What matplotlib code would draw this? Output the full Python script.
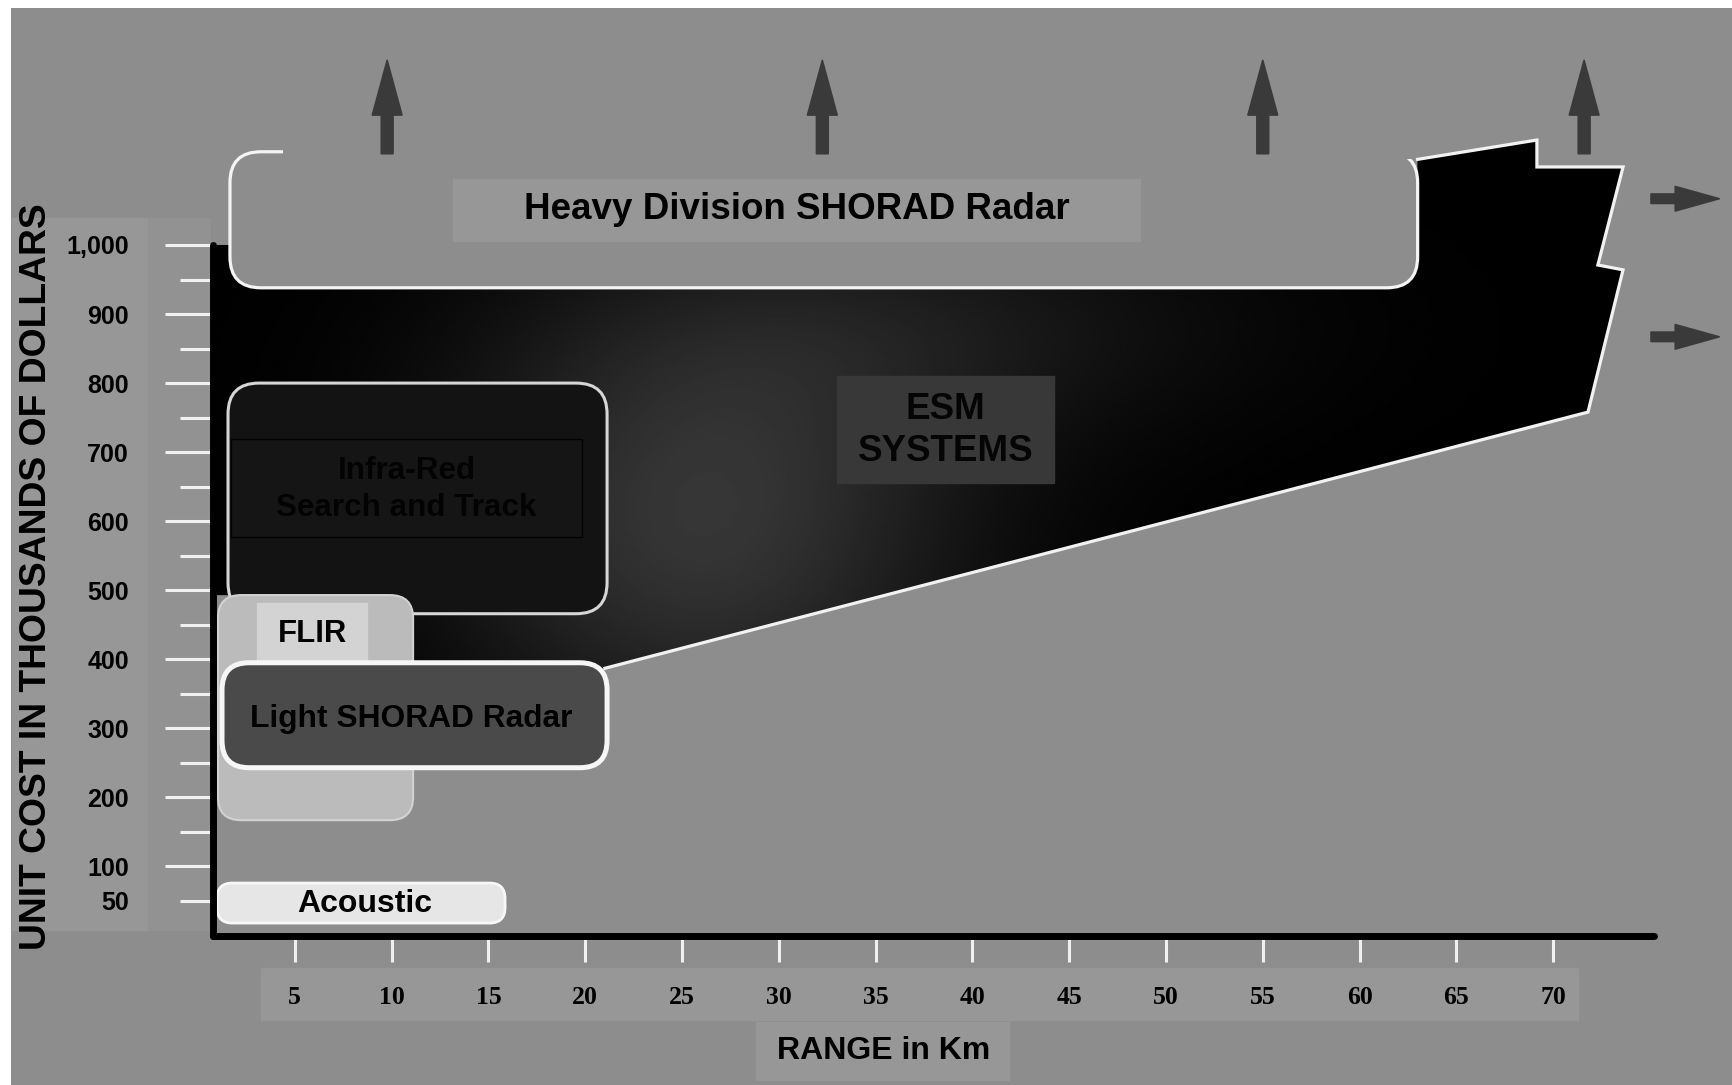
import matplotlib.pyplot as plt
import numpy as np
from matplotlib.patches import FancyBboxPatch, Rectangle, Polygon, FancyArrow

# %%
# values: range in km, unit cost in thousands of dollars
systems = ['Acoustic', 'FLIR', 'Infra-Red\nSearch and Track',
           'Light SHORAD Radar', 'Heavy Division SHORAD Radar']
range_lo = [0.98, 1.03, 1.55, 1.24, 1.65]
range_hi = [15.86, 11.11, 21.13, 21.13, 63.0]
cost_lo = [18, 167, 466, 243, 938]
cost_hi = [76, 493, 800, 395, 1135]

# ESM systems envelope (black area)
esm_range = [0.77, 63.0, 63.0, 69.16, 69.16, 73.61, 72.31, 73.61, 71.8,
             21.02, 11.11, 11.11, 0.77]
esm_cost = [1000, 1000, 1124, 1152, 1113, 1113, 971, 964, 758,
            387, 387, 493, 493]

# "and beyond" arrows
up_arrow_range = [9.77, 32.25, 55.0, 71.6]
up_arrow_cost = [1132, 1268]
right_arrow_cost = [1067, 867]
right_arrow_range = [75.05, 78.6]

x_ticks = [5, 10, 15, 20, 25, 30, 35, 40, 45, 50, 55, 60, 65, 70]
y_ticks = [50, 100, 200, 300, 400, 500, 600, 700, 800, 900, 1000]
y_ticklabels = ['50', '100', '200', '300', '400', '500', '600', '700',
                '800', '900', '1,000']
y_minor = [150, 250, 350, 450, 550, 650, 750, 850, 950]

# %%
bg = '#8d8d8d'
panel = '#979797'
sans = 'Liberation Sans'
serif = 'Liberation Serif'
# keeps rounded corners circular on the screen (cost units per km)
asp = 28.04

fig = plt.figure(figsize=(17.33, 10.85), dpi=100, facecolor='white')
ax = fig.add_axes([11 / 1733, 0, 1 - 11 / 1733, 1 - 8 / 1085])
ax.set_facecolor(bg)

# label panels
ax.add_patch(Rectangle((-9.61, 8), 7.03, 1031, color=panel, zorder=0.5))
ax.add_patch(Rectangle((-2.58, 8), 3.2, 1031, color='#929292', zorder=0.5))
ax.add_patch(Rectangle((3.25, -122.4), 68.03, 75.3, color=panel, zorder=0.5))
ax.add_patch(Rectangle((28.82, -209.3), 13.07, 84, color=panel, zorder=0.5))

# ESM area with a soft lighter glow in the middle
esm = Polygon(np.column_stack([esm_range, esm_cost]), closed=True,
              facecolor='black', edgecolor='none', zorder=1)
ax.add_patch(esm)
gx, gy = np.meshgrid(np.linspace(0.77, 74, 400), np.linspace(380, 1155, 300))
glow = (0.21 * np.exp(-((gx - 26) / 9.5) ** 2 / 2 - ((gy - 600) / 230) ** 2 / 2)
        + 0.08 * np.exp(-((gx - 38) / 12) ** 2 / 2 - ((gy - 880) / 120) ** 2 / 2))
im = ax.imshow(glow, extent=[0.77, 74, 380, 1155], origin='lower', cmap='gray',
               vmin=0, vmax=1, aspect='auto', zorder=1.1,
               interpolation='bilinear')
im.set_clip_path(esm)
ax.plot(esm_range[2:10], esm_cost[2:10], color='#f2f2f2', lw=2.3,
        solid_joinstyle='miter', zorder=1.2)

# heavy division radar: open-topped bracket
hv = 4
heavy_fill = FancyBboxPatch((range_lo[hv], cost_lo[hv]),
                            range_hi[hv] - range_lo[hv],
                            cost_hi[hv] - cost_lo[hv],
                            boxstyle='round,pad=0,rounding_size=1.6',
                            mutation_aspect=asp, facecolor=bg,
                            edgecolor='none', zorder=1.3)
ax.add_patch(heavy_fill)
heavy_line = FancyBboxPatch((range_lo[hv], cost_lo[hv]),
                            range_hi[hv] - range_lo[hv],
                            cost_hi[hv] - cost_lo[hv],
                            boxstyle='round,pad=0,rounding_size=1.6',
                            mutation_aspect=asp, facecolor='none',
                            edgecolor='#f4f4f4', lw=2.3, zorder=1.35)
ax.add_patch(heavy_line)
clip = Polygon([(0, 600), (66, 600), (66, 1125), (4.39, 1125),
                (4.39, 1170), (0, 1170)], closed=True,
               transform=ax.transData)
heavy_line.set_clip_path(clip)
ax.add_patch(Rectangle((13.17, 1005.8), 35.49, 89.8, color=panel, zorder=3))
ax.text(30.94, 1050.7, systems[hv], fontsize=26.5, fontweight='bold',
        family=sans, ha='center', va='center', zorder=3.1)

# infra-red search and track
ax.add_patch(FancyBboxPatch((range_lo[2], cost_lo[2]),
                            range_hi[2] - range_lo[2],
                            cost_hi[2] - cost_lo[2],
                            boxstyle='round,pad=0,rounding_size=1.6',
                            mutation_aspect=asp, facecolor='#131313',
                            edgecolor='#d6d6d6', lw=2.2, zorder=2))
ax.add_patch(Rectangle((1.70, 577.1), 18.13, 141.9, facecolor='#151515',
                       edgecolor='#030303', lw=1, zorder=2.1))
ax.text(10.77, 646, systems[2], fontsize=22.6, fontweight='bold',
        family=sans, color='#030303', ha='center', va='center',
        linespacing=1.3, zorder=2.2)

# FLIR
ax.add_patch(FancyBboxPatch((range_lo[1], cost_lo[1]),
                            range_hi[1] - range_lo[1],
                            cost_hi[1] - cost_lo[1],
                            boxstyle='round,pad=0,rounding_size=1.2',
                            mutation_aspect=asp, facecolor='#bbbbbb',
                            edgecolor='#d2d2d2', lw=1.5, zorder=2.3))
ax.add_patch(Rectangle((3.05, 396.1), 5.68, 85.4, color='#d3d3d3',
                       zorder=2.4))
ax.text(5.89, 436, systems[1], fontsize=22.4, fontweight='bold',
        family=sans, ha='center', va='center', zorder=2.45)

# light SHORAD radar
ax.add_patch(FancyBboxPatch((range_lo[3], cost_lo[3]),
                            range_hi[3] - range_lo[3],
                            cost_hi[3] - cost_lo[3],
                            boxstyle='round,pad=0,rounding_size=1.4',
                            mutation_aspect=asp, facecolor='#4a4a4a',
                            edgecolor='#f6f6f6', lw=3.6, zorder=2.5))
ax.text(11.0, 314, systems[3], fontsize=22.9, fontweight='bold',
        family=sans, ha='center', va='center', zorder=2.6)

# acoustic
ax.add_patch(FancyBboxPatch((range_lo[0], cost_lo[0]),
                            range_hi[0] - range_lo[0],
                            cost_hi[0] - cost_lo[0],
                            boxstyle='round,pad=0,rounding_size=0.8',
                            mutation_aspect=asp, facecolor='#e6e6e6',
                            edgecolor='#f7f7f7', lw=2, zorder=2.5))
ax.text(8.6, 45, systems[0], fontsize=23, fontweight='bold',
        family=sans, ha='center', va='center', zorder=2.6)

# ESM label
ax.add_patch(Rectangle((33.0, 655.3), 11.2, 155, color='#383838', zorder=3))
ax.text(38.6, 731, 'ESM\nSYSTEMS', fontsize=26.5, fontweight='bold',
        family=sans, color='#050505', ha='center', va='center',
        linespacing=1.25, zorder=3.1)

# arrows
arrow_c = '#3a3a3a'
for xr in up_arrow_range:
    ax.add_patch(FancyArrow(xr, up_arrow_cost[0], 0,
                            up_arrow_cost[1] - up_arrow_cost[0],
                            width=0.62, head_width=1.55, head_length=80,
                            length_includes_head=True, color=arrow_c,
                            zorder=3))
for yc in right_arrow_cost:
    ax.add_patch(FancyArrow(right_arrow_range[0], yc,
                            right_arrow_range[1] - right_arrow_range[0], 0,
                            width=14, head_width=36, head_length=2.3,
                            length_includes_head=True, color=arrow_c,
                            zorder=3))

# %%
# axes, ticks and labels
ax.set_xlim(-9.66, 79.29)
ax.set_ylim(-216.5, 1343.2)
ax.set_axisbelow(False)
for s in ['top', 'right']:
    ax.spines[s].set_visible(False)
ax.spines['left'].set_position(('data', 0.77))
ax.spines['left'].set_bounds(0, 1000)
ax.spines['bottom'].set_position(('data', 0))
ax.spines['bottom'].set_bounds(0.77, 75.2)
for s in ['left', 'bottom']:
    ax.spines[s].set_linewidth(5)
    ax.spines[s].set_color('black')
    ax.spines[s].set_capstyle('round')
    ax.spines[s].set_zorder(5)

ax.set_xticks(x_ticks)
ax.set_xticklabels([str(v) for v in x_ticks], family=serif,
                   fontweight='bold', fontsize=18.5)
ax.tick_params(axis='x', direction='out', length=19, width=2.2,
               color='#f0f0f0', pad=17)
ax.set_yticks(y_ticks)
ax.set_yticklabels(y_ticklabels, family=sans, fontweight='bold', fontsize=18)
ax.set_yticks(y_minor, minor=True)
ax.tick_params(axis='y', which='major', direction='out', length=34.5,
               width=2.2, color='#f0f0f0', pad=26)
ax.tick_params(axis='y', which='minor', direction='out', length=24,
               width=2.2, color='#f0f0f0')
ax.yaxis.get_major_ticks()[0].tick1line.set_markersize(24)

ax.set_ylabel('UNIT COST IN THOUSANDS OF DOLLARS', family=sans,
              fontweight='bold', fontsize=26.8, ha='center', va='center')
ax.yaxis.set_label_coords(-8.32, 519, transform=ax.transData)
ax.set_xlabel('RANGE in Km', family=sans, fontweight='bold', fontsize=23,
              ha='center', va='center')
ax.xaxis.set_label_coords(35.43, -167.3, transform=ax.transData)

fig.savefig('out.png', dpi=100, facecolor=fig.get_facecolor())
